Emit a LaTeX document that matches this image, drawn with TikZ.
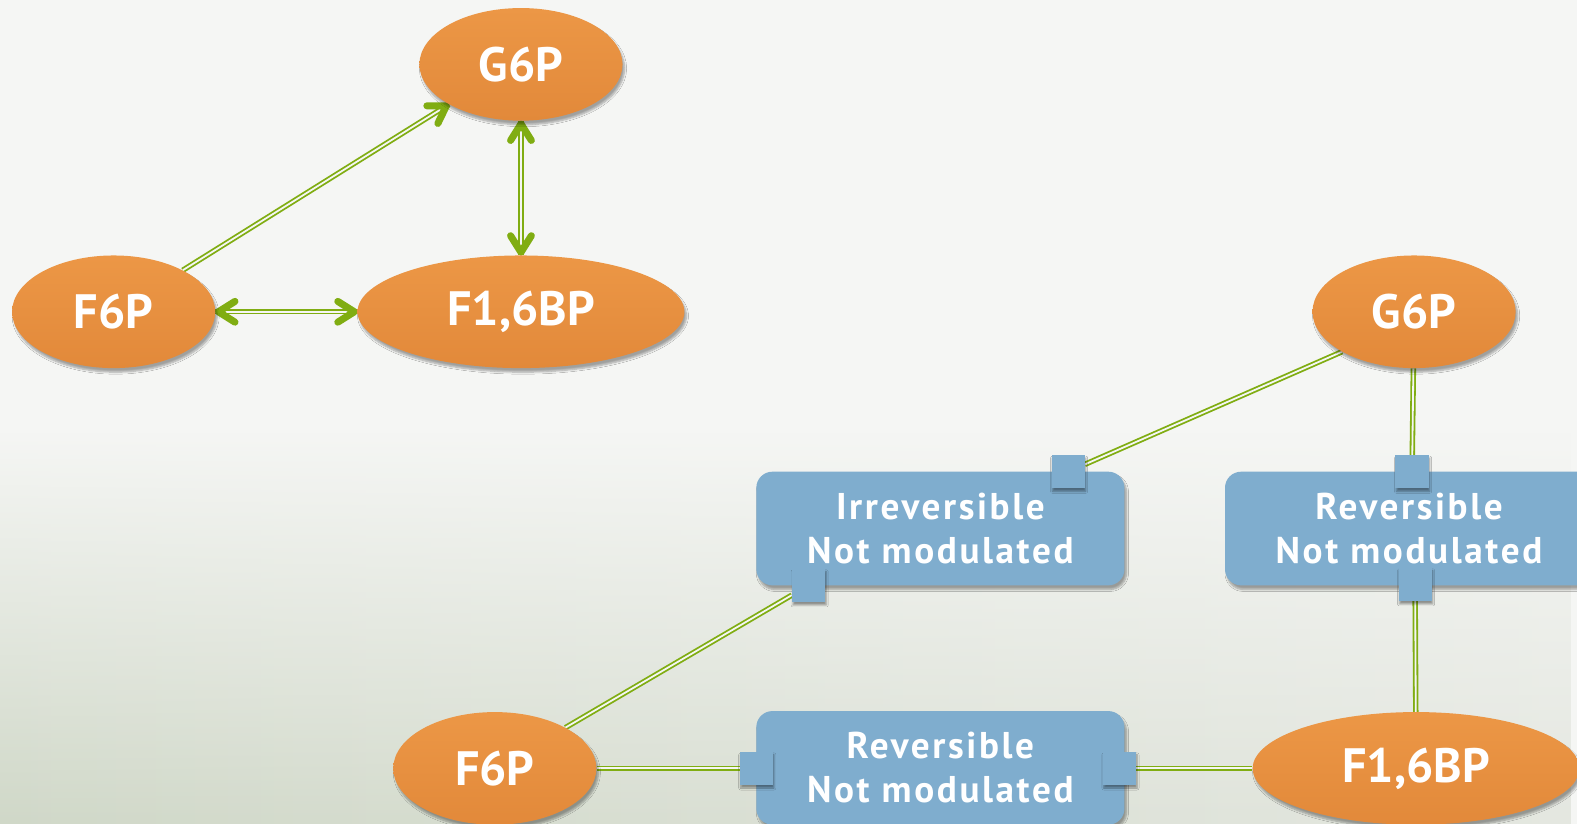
\documentclass[tikz,border=0pt]{standalone}
\usepackage{fontspec}
\setmainfont{PT Sans}
\newfontfamily\boxfont[LetterSpace=7]{PT Sans}
\usetikzlibrary{shapes.geometric,shadows.blur,backgrounds,fadings,calc}

\definecolor{bgtop}{HTML}{F5F6F4}
\definecolor{bgbotL}{HTML}{D0D8C8}
\definecolor{bgbotR}{HTML}{E4E7E0}
\definecolor{orTop}{HTML}{EC9746}
\definecolor{orBot}{HTML}{E2893A}
\definecolor{boxblue}{HTML}{7FADCE}
\definecolor{lgreen}{HTML}{80AD12}

\tikzset{
  metab/.style={ellipse, minimum width=202pt, minimum height=112pt, inner sep=0pt,
    top color=orTop, bottom color=orBot, text=white,
    font=\bfseries\fontsize{48}{48}\selectfont,
    blur shadow={shadow xshift=2pt, shadow yshift=-4pt, shadow opacity=35, shadow blur steps=6}},
  wide/.style={minimum width=325pt},
  rxn/.style={rectangle, rounded corners=16pt, minimum width=366pt, minimum height=113pt,
    fill=boxblue, text=white, align=center, inner sep=0pt,
    font=\boxfont\bfseries\fontsize{37}{44}\selectfont,
    blur shadow={shadow xshift=2pt, shadow yshift=-4pt, shadow opacity=35, shadow blur steps=6}},
  port/.style={rectangle, minimum size=33pt, inner sep=0pt, fill=boxblue,
    blur shadow={shadow xshift=1pt, shadow yshift=-3pt, shadow opacity=40, shadow blur steps=4}},
  link/.style={draw=lgreen, line width=1.8pt, double=bgtop, double distance=1.8pt},
  chevron/.style={draw=lgreen, line width=7pt, line cap=round, line join=round},
}

% open arrow head at #1, pointing away from #2
\newcommand\headat[2]{%
  \draw[chevron] ($(#1)!22pt!28:(#2)$) -- ($(#1)!3pt!(#2)$) -- ($(#1)!22pt!-28:(#2)$);}

\begin{document}
\begin{tikzpicture}[x=1pt, y=-1pt]
\useasboundingbox (0,0) rectangle (1568,819);
\clip (0,0) rectangle (1568,819);

% upper network: plain metabolite graph
\node[metab] (g6pa) at (518,64) {G6P};
\node[metab] (f6pa) at (113,310) {F6P};
\node[metab, wide] (fbpa) at (518,310) {F1,6BP};

% lower network: reactions between metabolites
\node[metab] (g6pb) at (1406,310) {G6P};
\node[metab] (f6pb) at (492,764) {F6P};
\node[metab, wide] (fbpb) at (1408,764) {F1,6BP};

\node[rxn] (irr) at (935,525.5) {Irreversible\\Not modulated};
\node[rxn] (revr) at (1401,525.5) {Reversible\\Not modulated};
\node[rxn] (revb) at (935,763.5) {Reversible\\Not modulated};

\node[port] (p1) at (1062,469) {};
\node[port] (p2) at (804,582) {};
\node[port] (p3) at (1404,469) {};
\node[port] (p4) at (1407,581) {};
\node[port] (p5) at (752,764) {};
\node[port] (p6) at (1113,764) {};

\begin{scope}[on background layer]
  % page background
  \fill[bgtop] (0,0) rectangle (1568,819);
  \shade[left color=bgbotL, right color=bgbotR, path fading=north] (0,430) rectangle (1568,819);

  % upper connectors: double shafts with open heads
  \draw[link] (f6pa.31) -- (g6pa.209);
  \headat{g6pa.209}{f6pa.31}

  \draw[link] (g6pa.south) -- (fbpa.north);
  \headat{g6pa.south}{fbpa.north}
  \headat{fbpa.north}{g6pa.south}

  \draw[link] (f6pa.east) -- (fbpa.west);
  \headat{f6pa.east}{fbpa.west}
  \headat{fbpa.west}{f6pa.east}

  % lower connectors
  \draw[link] (g6pb.209) -- (p1);
  \draw[link] (g6pb) -- (p3);
  \draw[link] (p2) -- (f6pb.30);
  \draw[link] (p4) -- (fbpb);
  \draw[link] (f6pb) -- (p5);
  \draw[link] (p6) -- (fbpb);
\end{scope}
\end{tikzpicture}
\end{document}
